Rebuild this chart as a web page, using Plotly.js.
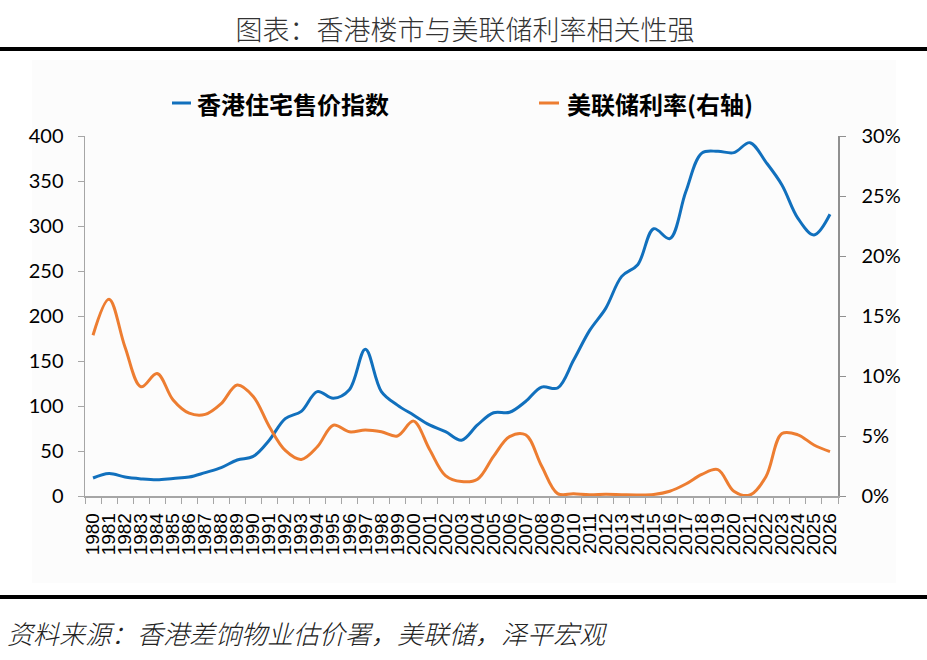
<!DOCTYPE html>
<html>
<head>
<meta charset="utf-8">
<script src="https://cdn.plot.ly/plotly-3.0.1.min.js"></script>
<style>
    html, body { margin: 0; padding: 0; background: #fff; }
    #chart { width: 927px; height: 660px; }
</style>
</head>
<body>
<div id="chart"></div>
<script>
// 年份
const years = [];
for (let y = 1980; y <= 2026; y++) years.push(String(y));

// 香港住宅售价指数
const hkPriceIndex = [
    20, 25, 21, 19, 18, 19.5, 21, 26, 31.5, 40,
    44, 62, 86, 94, 116, 108.5, 118, 163, 116, 101,
    90, 79, 71.5, 62, 79, 92.5, 93, 105, 121, 120,
    151, 184, 208.5, 244, 257, 297, 286, 338, 381, 383,
    381.5, 392.6, 371, 345.6, 308.5, 290, 313
];

// 美联储利率(%)
const fedRate = [
    13.4, 16.4, 12.4, 9.1, 10.2, 8.0, 6.9, 6.8, 7.7, 9.25,
    8.3, 5.8, 3.8, 3.05, 4.1, 5.9, 5.35, 5.5, 5.35, 5.0,
    6.24, 3.9, 1.7, 1.2, 1.4, 3.3, 4.95, 5.1, 2.5, 0.2,
    0.18, 0.1, 0.14, 0.11, 0.09, 0.13, 0.4, 1.0, 1.8, 2.2,
    0.4, 0.08, 1.6, 5.2, 5.1, 4.25, 3.7
];

const titleText = '图表：香港楼市与美联储利率相关性强';
const legendNames = ['香港住宅售价指数', '美联储利率(右轴)'];
const sourceText = '资料来源：香港差饷物业估价署，美联储，泽平宏观';

const BLUE = '#1170bd';
const ORANGE = '#ed7d31';
const AXIS = '#a6a6a6';

// 绘图区像素位置
const W = 927, H = 660;
const L = 85, R = 838, T = 136, B = 496;
const px = (x) => (x - L) / (R - L);
const py = (y) => (B - y) / (B - T);

const traces = [
    {
        x: years,
        y: hkPriceIndex,
        name: legendNames[0],
        type: 'scatter',
        mode: 'lines',
        line: { color: BLUE, width: 3, shape: 'spline', smoothing: 1 },
        yaxis: 'y'
    },
    {
        x: years,
        y: fedRate,
        name: legendNames[1],
        type: 'scatter',
        mode: 'lines',
        line: { color: ORANGE, width: 3, shape: 'spline', smoothing: 1 },
        yaxis: 'y2'
    }
];

const layout = {
    width: W,
    height: H,
    margin: { l: L, r: W - R, t: T, b: H - B },
    paper_bgcolor: '#ffffff',
    plot_bgcolor: 'rgba(0,0,0,0)',
    showlegend: false,
    title: {
        text: titleText,
        font: { family: '"Noto Sans CJK SC", sans-serif', size: 27, color: '#333333', weight: 300 },
        xref: 'container', yref: 'container',
        x: 465 / W, y: 1 - 31 / H,
        xanchor: 'center', yanchor: 'middle'
    },
    xaxis: {
        type: 'category',
        range: [-0.5, years.length - 0.5],
        tickmode: 'linear',
        tick0: 0,
        dtick: 1,
        showgrid: false,
        showline: true,
        linecolor: AXIS,
        linewidth: 1.5,
        ticks: 'outside',
        tickson: 'boundaries',
        ticklen: 6,
        tickcolor: AXIS,
        tickwidth: 1,
        tickangle: -90,
        ticklabelstandoff: 8,
        tickfont: { family: '"Liberation Sans", Arial, sans-serif', size: 19, color: '#000' }
    },
    yaxis: {
        range: [0, 400],
        dtick: 50,
        showgrid: false,
        zeroline: false,
        showline: true,
        linecolor: AXIS,
        linewidth: 1.5,
        ticks: 'outside',
        ticklen: 6,
        tickcolor: AXIS,
        ticklabelstandoff: 10,
        tickfont: { family: 'Lato, sans-serif', size: 20, color: '#000' }
    },
    yaxis2: {
        overlaying: 'y',
        side: 'right',
        range: [0, 30],
        dtick: 5,
        ticksuffix: '%',
        showgrid: false,
        zeroline: false,
        showline: true,
        linecolor: '#909090',
        linewidth: 1.5,
        ticks: 'outside',
        ticklen: 6,
        tickcolor: '#909090',
        ticklabelstandoff: 12,
        tickfont: { family: 'Lato, sans-serif', size: 20, color: '#000' }
    },
    shapes: [
        // 图表背景框
        {
            type: 'rect', xref: 'paper', yref: 'paper', layer: 'below',
            x0: px(32), x1: px(896), y0: py(583), y1: py(60),
            fillcolor: '#fcfcfc', line: { width: 0 }
        },
        // 上下黑线
        {
            type: 'line', xref: 'paper', yref: 'paper',
            x0: px(0), x1: px(W), y0: py(49), y1: py(49),
            line: { color: '#000', width: 4 }
        },
        {
            type: 'line', xref: 'paper', yref: 'paper',
            x0: px(0), x1: px(W), y0: py(597), y1: py(597),
            line: { color: '#000', width: 4 }
        },
        // 图例线段
        {
            type: 'line', xref: 'paper', yref: 'paper',
            x0: px(172), x1: px(191), y0: py(103), y1: py(103),
            line: { color: BLUE, width: 3 }
        },
        {
            type: 'line', xref: 'paper', yref: 'paper',
            x0: px(539), x1: px(559), y0: py(103), y1: py(103),
            line: { color: ORANGE, width: 3 }
        }
    ],
    annotations: [
        {
            text: '<b>' + legendNames[0] + '</b>',
            xref: 'paper', yref: 'paper', x: px(195), y: py(103),
            xanchor: 'left', yanchor: 'middle', showarrow: false,
            font: { family: '"Noto Sans CJK SC", sans-serif', size: 24, color: '#000' }
        },
        {
            text: '<b>' + legendNames[1] + '</b>',
            xref: 'paper', yref: 'paper', x: px(565), y: py(103),
            xanchor: 'left', yanchor: 'middle', showarrow: false,
            font: { family: '"Noto Sans CJK SC", sans-serif', size: 24, color: '#000' }
        },
        {
            text: sourceText,
            xref: 'paper', yref: 'paper', x: px(5), y: py(632),
            xanchor: 'left', yanchor: 'middle', showarrow: false,
            font: { family: '"Noto Sans CJK SC", sans-serif', size: 26, color: '#222', style: 'italic', weight: 300 }
        }
    ]
};

Plotly.newPlot('chart', traces, layout, { displayModeBar: false, staticPlot: true });
</script>
</body>
</html>
